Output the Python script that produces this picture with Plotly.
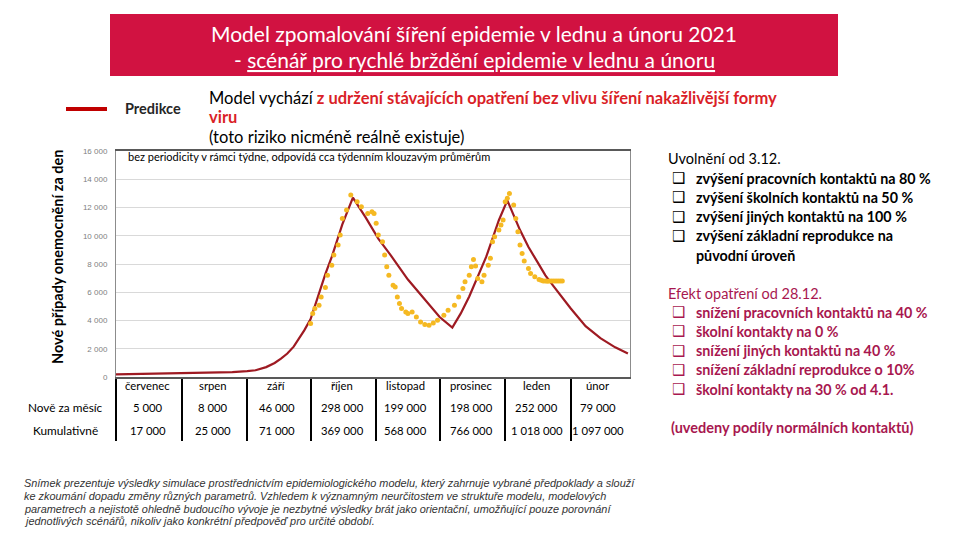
import plotly.graph_objects as go

# model prediction (daily new cases)
model_dates = ["2020-07-01", "2020-07-15", "2020-08-01", "2020-08-15", "2020-08-25",
               "2020-09-01", "2020-09-05", "2020-09-10", "2020-09-14", "2020-09-17",
               "2020-09-20", "2020-09-23", "2020-09-25", "2020-09-28", "2020-10-01",
               "2020-10-05", "2020-10-08", "2020-10-11", "2020-10-16", "2020-10-21",
               "2020-10-27", "2020-11-02", "2020-11-08", "2020-11-16", "2020-11-24",
               "2020-12-01", "2020-12-07", "2020-12-11", "2020-12-15", "2020-12-19",
               "2020-12-23", "2020-12-29", "2021-01-02", "2021-01-08", "2021-01-12",
               "2021-01-16", "2021-01-20", "2021-01-24", "2021-02-01", "2021-02-08",
               "2021-02-15", "2021-02-22", "2021-02-28"]
model_cases = [190, 220, 260, 300, 340,
               420, 480, 700, 990, 1300,
               1660, 2150, 2600, 3300, 4100,
               6000, 7300, 8500, 10800, 12700,
               11300, 9800, 8600, 6900, 5500,
               4250, 3500, 4500, 5700, 7100,
               8500, 11100, 12500, 10400, 9200,
               8200, 7200, 6400, 4850, 3600,
               2750, 2100, 1660]

# reported cases, ~7-day moving average
actual_dates = ["2020-10-01", "2020-10-02", "2020-10-03", "2020-10-05", "2020-10-06",
                "2020-10-08", "2020-10-09", "2020-10-11", "2020-10-12", "2020-10-14",
                "2020-10-15", "2020-10-16", "2020-10-18", "2020-10-20", "2020-10-23",
                "2020-10-25", "2020-10-28", "2020-10-30", "2020-10-31", "2020-11-01",
                "2020-11-02", "2020-11-04", "2020-11-05", "2020-11-06", "2020-11-07",
                "2020-11-09", "2020-11-10", "2020-11-11", "2020-11-12", "2020-11-13",
                "2020-11-15", "2020-11-16", "2020-11-18", "2020-11-20", "2020-11-22",
                "2020-11-24", "2020-11-26", "2020-11-28", "2020-11-30", "2020-12-03",
                "2020-12-05", "2020-12-08", "2020-12-10", "2020-12-12", "2020-12-13",
                "2020-12-15", "2020-12-16", "2020-12-17", "2020-12-18", "2020-12-19",
                "2020-12-21", "2020-12-22", "2020-12-24", "2020-12-25", "2020-12-26",
                "2020-12-27", "2020-12-29", "2020-12-30", "2020-12-31", "2021-01-01",
                "2021-01-02", "2021-01-03", "2021-01-05", "2021-01-06", "2021-01-07",
                "2021-01-08", "2021-01-09", "2021-01-10", "2021-01-12", "2021-01-13",
                "2021-01-15", "2021-01-17", "2021-01-18", "2021-01-19", "2021-01-20",
                "2021-01-21", "2021-01-22", "2021-01-23", "2021-01-24", "2021-01-25",
                "2021-01-26", "2021-01-27", "2021-01-28"]
actual_cases = [3790, 4500, 4850, 5080, 5670,
                6340, 7210, 7920, 8630, 9340,
                10050, 11230, 11820, 12880, 12400,
                12050, 11580, 11700, 11580, 10880,
                10050, 9570, 8630, 7800, 7210,
                6500, 6380, 5670, 5200, 4850,
                4610, 4500, 4610, 4250, 3900,
                3710, 3660, 3830, 4020, 4370,
                4730, 5080, 5670, 6270, 6740,
                7210, 7800, 8320, 7850, 6980,
                6740, 7210, 7920, 8400, 9570,
                9930, 10400, 10760, 11110, 12400,
                12650, 13000, 12170, 11230, 10290,
                9340, 8750, 8220, 7680, 7330,
                7090, 6910, 6850, 6800, 6790,
                6780, 6790, 6790, 6800, 6800,
                6790, 6790, 6790]

month_starts = ["2020-07-01", "2020-08-01", "2020-09-01", "2020-10-01",
                "2020-11-01", "2020-12-01", "2021-01-01", "2021-02-01"]
month_mids = ["2020-07-16", "2020-08-16", "2020-09-15", "2020-10-16",
              "2020-11-15", "2020-12-16", "2021-01-16", "2021-02-14"]
months = ["červenec", "srpen", "září", "říjen", "listopad", "prosinec", "leden", "únor"]
new_per_month = [5000, 8000, 46000, 298000, 199000, 198000, 252000, 79000]
cumulative = [17000, 25000, 71000, 369000, 568000, 766000, 1018000, 1097000]

relax_items = ["zvýšení pracovních kontaktů na 80 %",
               "zvýšení školních kontaktů na 50 %",
               "zvýšení jiných kontaktů na 100 %",
               "zvýšení základní reprodukce na"]
measure_items = ["snížení pracovních kontaktů na 40 %",
                 "školní kontakty na 0 %",
                 "snížení jiných kontaktů na 40 %",
                 "snížení základní reprodukce o 10%",
                 "školní kontakty na 30 % od 4.1."]
note_lines = [
    "Snímek prezentuje výsledky simulace prostřednictvím epidemiologického modelu, který zahrnuje vybrané předpoklady a slouží",
    "ke zkoumání dopadu změny různých parametrů. Vzhledem k významným neurčitostem ve struktuře modelu, modelových",
    "parametrech a nejistotě ohledně budoucího vývoje je nezbytné výsledky brát jako orientační, umožňující pouze porovnání",
    "jednotlivých scénářů, nikoliv jako konkrétní předpověď pro určité období.",
]

# plot area in pixels
L, R, T, B = 116, 630, 151, 377


def px(x):
    return (x - L) / (R - L)


def py(y):
    return (B - y) / (B - T)


def fmt(v):
    return f"{v:,}".replace(",", " ")


FONT = "Lato"
RED = "#9E1A22"
MAGENTA = "#A8174F"

fig = go.Figure()
fig.add_trace(go.Scatter(x=model_dates, y=model_cases, mode="lines",
                         line=dict(color=RED, width=2.2), showlegend=False))
fig.add_trace(go.Scatter(x=actual_dates, y=actual_cases, mode="markers",
                         marker=dict(color="#F5B922", size=5), showlegend=False))

ann = []


def text(x, y, s, size=11, color="#000", anchor="left", family=FONT, **kw):
    ann.append(dict(x=px(x), y=py(y), xref="paper", yref="paper", text=s,
                    showarrow=False, xanchor=anchor, yanchor="middle",
                    font=dict(family=family, size=size, color=color), **kw))


# title
text(474, 33, "Model zpomalování šíření epidemie v lednu a únoru 2021", 21, "white", "center")
text(474, 60, "- <u>scénář pro rychlé brždění epidemie v lednu a únoru</u>", 21, "white", "center")

# legend + description
text(123, 109, "<b>Predikce</b>", 14.5, "#262626")
red_b = "<span style='color:#DA1F28'><b>%s</b></span>"
text(207, 98, "Model vychází " + red_b % "z udržení stávajících opatření bez vlivu šíření nakažlivější formy", 16.5)
text(207, 117, red_b % "viru", 16.5)
text(207, 137, "(toto riziko nicméně reálně existuje)", 16.5)
text(126, 156, "bez periodicity v rámci týdne, odpovídá cca týdenním klouzavým průměrům", 11)
text(57, 257, "<b>Nové případy onemocnění za den</b>", 14.5, anchor="center", textangle=-90)

# table under the chart
for i, m in enumerate(months):
    for y, s in [(385, m), (407, fmt(new_per_month[i])), (430, fmt(cumulative[i]))]:
        ann.append(dict(x=month_mids[i], y=py(y), xref="x", yref="paper", text=s,
                        showarrow=False, xanchor="center", yanchor="middle",
                        font=dict(family=FONT, size=11.3, color="#000")))
text(65, 407, "Nově za měsíc", 11.8, anchor="center")
text(65, 430, "Kumulativně", 11.8, anchor="center")

# right-hand notes
text(666, 158, "Uvolnění od 3.12.", 14.5)
for i, s in enumerate(relax_items):
    y = 178 + i * 19.3
    text(670, y, "❑", 15, family="DejaVu Sans")
    text(694, y, "<b>" + s + "</b>", 14.3)
text(694, 255, "<b>původní úroveň</b>", 14.3)
text(666, 293, "Efekt opatření od 28.12.", 14.5, MAGENTA)
for i, s in enumerate(measure_items):
    y = 312 + i * 19.3
    text(670, y, "❑", 15, MAGENTA, family="DejaVu Sans")
    text(694, y, "<b>" + s + "</b>", 14.3, MAGENTA)
text(669, 427, "<b>(uvedeny podíly normálních kontaktů)</b>", 14.5, MAGENTA)

# disclaimer
for i, s in enumerate(note_lines):
    text(22, 483 + i * 12.8, "<i>" + s + "</i>", 10.9, "#333", family="Liberation Sans")

shapes = [
    dict(type="rect", xref="paper", yref="paper", x0=px(110), x1=px(838), y0=py(14), y1=py(76),
         fillcolor="#D11241", line=dict(width=0), layer="below"),
    dict(type="line", xref="paper", yref="paper", x0=px(66), x1=px(107), y0=py(109), y1=py(109),
         line=dict(color="#C00000", width=4)),
]

fig.update_layout(
    width=960, height=540,
    margin=dict(l=L, r=960 - R, t=T, b=540 - B),
    paper_bgcolor="white", plot_bgcolor="white",
    separators=", ",
    annotations=ann, shapes=shapes,
    xaxis=dict(type="date", range=["2020-07-01", "2021-03-01"],
               tickvals=month_starts, ticktext=[""] * len(month_starts),
               ticks="outside", ticklen=62, tickwidth=1.5, tickcolor="#000",
               showgrid=False, showline=True, linecolor="#595959", linewidth=1.5, mirror=True),
    yaxis=dict(range=[0, 16000], dtick=2000, tickformat=",", showgrid=True, gridcolor="#D9D9D9",
               zeroline=False, showline=True, linecolor="#8C8C8C", linewidth=1, mirror=True,
               tickfont=dict(family="Liberation Sans", size=8, color="#7F7F7F"),
               ticklabelstandoff=6),
)

# page has a default 8px body margin; drop it so the 960x540 figure fills the window
fig.write_html("out.html", config={"displayModeBar": False},
               post_script="document.body.style.margin='0';")
